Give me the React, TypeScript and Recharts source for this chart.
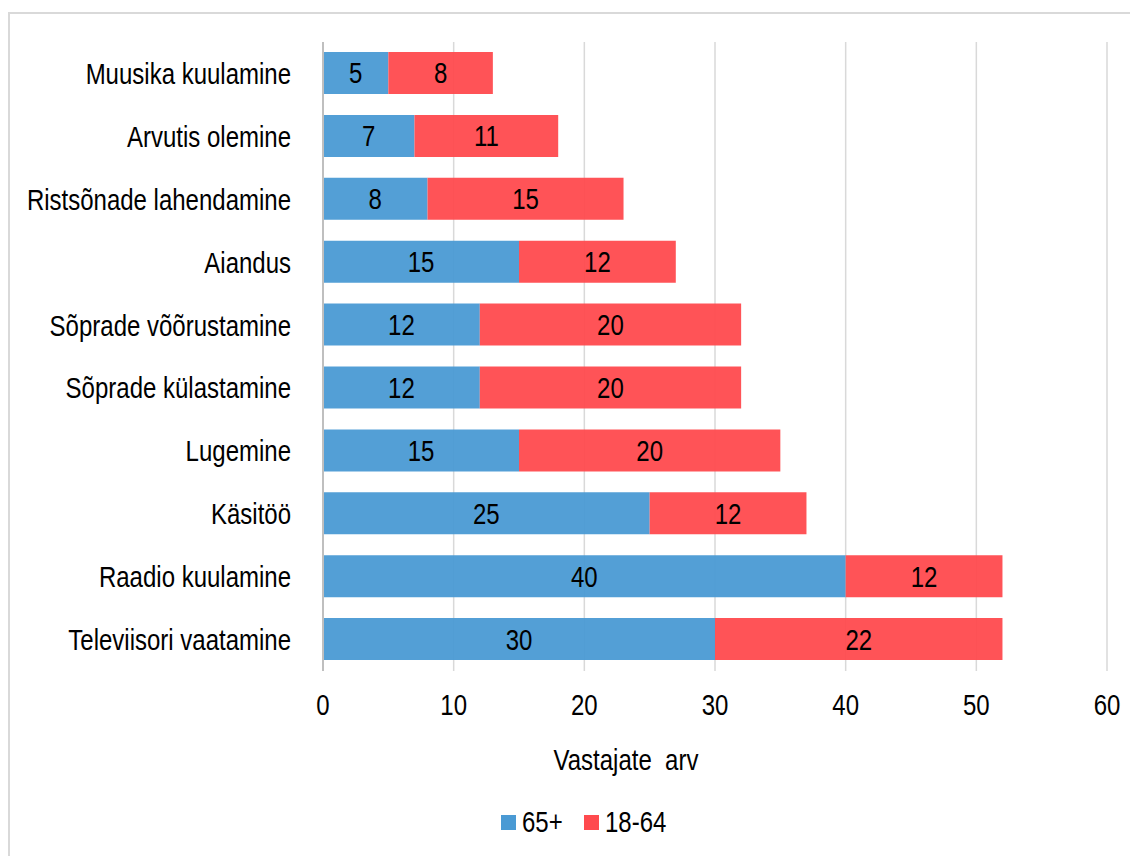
import { BarChart, Bar, XAxis, YAxis, CartesianGrid, Legend, LabelList, Label } from "recharts"

const FONT = "'Liberation Sans', Arial, sans-serif"
const FONT_SIZE = 30
// Arial Narrow look: regular sans squeezed horizontally
const SQUEEZE = 0.8

const activities = [
  "Muusika kuulamine",
  "Arvutis olemine",
  "Ristsõnade lahendamine",
  "Aiandus",
  "Sõprade võõrustamine",
  "Sõprade külastamine",
  "Lugemine",
  "Käsitöö",
  "Raadio kuulamine",
  "Televiisori vaatamine",
]
const seniors = [5, 7, 8, 15, 12, 12, 15, 25, 40, 30]
const working = [8, 11, 15, 12, 20, 20, 20, 12, 12, 22]
const xTicks = [0, 10, 20, 30, 40, 50, 60]

const series = [
  { key: "seniors", name: "65+", color: "#4a9ad4", textWidth: 41 },
  { key: "working", name: "18-64", color: "#ff4a4e", textWidth: 62 },
]

const data = activities.map((name, i) => ({ name, seniors: seniors[i], working: working[i] }))

function NarrowText({ x, y, anchor, children }: { x: number; y: number; anchor: "start" | "middle" | "end"; children: any }) {
  return (
    <g transform={`translate(${x},${y})`}>
      <text
        transform={`scale(${SQUEEZE},1)`}
        textAnchor={anchor}
        dominantBaseline="central"
        fill="#000"
        fontSize={FONT_SIZE}
        fontFamily={FONT}
        style={{ whiteSpace: "pre" }}
      >
        {children}
      </text>
    </g>
  )
}

const CategoryTick = (props: any) => (
  <NarrowText x={props.x} y={props.y} anchor="end">
    {props.payload.value}
  </NarrowText>
)

const ValueTick = (props: any) => (
  <NarrowText x={props.x} y={props.y + 10} anchor="middle">
    {props.payload.value}
  </NarrowText>
)

const SegmentLabel = (props: any) => (
  <NarrowText x={props.x + props.width / 2} y={props.y + props.height / 2} anchor="middle">
    {props.value}
  </NarrowText>
)

const AxisTitle = (props: any) => {
  const vb = props.viewBox
  return (
    <NarrowText x={vb.x + vb.width / 2 - 89} y={vb.y + 89} anchor="middle">
      {"Vastajate  arv"}
    </NarrowText>
  )
}

const LegendContent = () => (
  <div style={{ display: "flex", justifyContent: "center", alignItems: "center", gap: 21, paddingLeft: 50 }}>
    {series.map((s) => (
      <div key={s.key} style={{ display: "flex", alignItems: "center", gap: 6 }}>
        <div style={{ width: 15, height: 15, background: s.color }} />
        <span
          style={{
            display: "inline-block",
            whiteSpace: "nowrap",
            fontFamily: FONT,
            fontSize: FONT_SIZE,
            color: "#000",
            transform: `scaleX(${SQUEEZE})`,
            transformOrigin: "left center",
            width: s.textWidth,
          }}
        >
          {s.name}
        </span>
      </div>
    ))}
  </div>
)

export default function App() {
  return (
    <div
      style={{
        marginTop: 4,
        width: 1132,
        height: 846,
        border: "2px solid #d9d9d9",
        boxSizing: "border-box",
        background: "#fff",
      }}
    >
      <BarChart
        width={1128}
        height={842}
        data={data}
        layout="vertical"
        margin={{ top: 28, right: 31, left: 0, bottom: 65 }}
      >
        <CartesianGrid horizontal={false} stroke="#d9d9d9" strokeWidth={1.5} />
        <XAxis
          type="number"
          domain={[0, 60]}
          ticks={xTicks}
          axisLine={false}
          tickLine={false}
          tickSize={0}
          tickMargin={24}
          tick={ValueTick}
          height={86}
        >
          <Label content={AxisTitle} />
        </XAxis>
        <YAxis
          type="category"
          dataKey="name"
          width={313}
          axisLine={{ stroke: "#bfbfbf", strokeWidth: 2 }}
          tickLine={false}
          tickSize={0}
          tickMargin={32}
          tick={CategoryTick}
          interval={0}
        />
        <Legend content={LegendContent} wrapperStyle={{ left: 0, bottom: 17 }} />
        {series.map((s) => (
          <Bar
            key={s.key}
            dataKey={s.key}
            name={s.name}
            stackId="a"
            fill={s.color}
            fillOpacity={0.95}
            barSize={42}
            isAnimationActive={false}
          >
            <LabelList dataKey={s.key} content={SegmentLabel} />
          </Bar>
        ))}
      </BarChart>
    </div>
  )
}
